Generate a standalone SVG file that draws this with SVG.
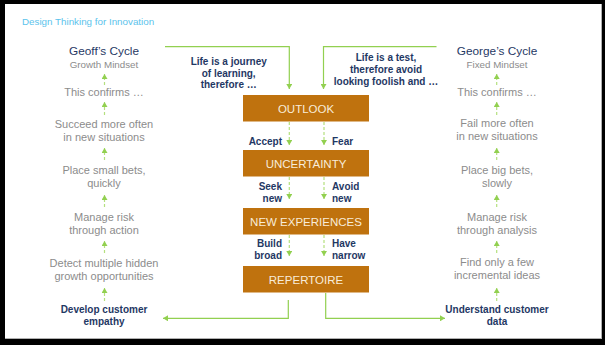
<svg xmlns="http://www.w3.org/2000/svg" width="605" height="345" viewBox="0 0 605 345">
<defs>
<style>
text{font-family:"Liberation Sans",Arial,sans-serif}
.grey{fill:#8c8c8c;font-size:11px;text-anchor:middle}
.head{fill:#1f3864;font-size:11.8px;text-anchor:middle}
.sub{fill:#8c8c8c;font-size:9.8px;text-anchor:middle}
.nb{fill:#1f3864;font-size:10px;font-weight:bold}
.box{fill:#bf720e}
.bt{fill:#f8ecd9;font-size:11.5px;text-anchor:middle}
.solid{stroke:#92d050;stroke-width:1.2;fill:none}
.dash{stroke:#b4e07e;stroke-width:1.2;fill:none;stroke-dasharray:3 2}
</style>
<marker id="ah" markerWidth="6" markerHeight="6" refX="5" refY="3" orient="auto" markerUnits="userSpaceOnUse">
<path d="M0,0 L5,3 L0,6 Z" fill="#92d050"/>
</marker>
</defs>
<rect x="0" y="0" width="605" height="345" fill="#000"/>
<rect x="5" y="4" width="597" height="335" fill="#b0b0b0"/>
<rect x="5" y="4" width="596" height="334" fill="#fff"/>
<text x="22" y="25" style="fill:#5bc3ec;font-size:9.8px">Design Thinking for Innovation</text>

<g id="connectors">
<path class="solid" d="M165,46.7 H289.3 V89" marker-end="url(#ah)"/>
<path class="solid" d="M436.5,46.7 H323.5 V89" marker-end="url(#ah)"/>
<path class="dash" d="M289.3,122 V145" marker-end="url(#ah)"/>
<path class="dash" d="M324,122 V145" marker-end="url(#ah)"/>
<path class="dash" d="M289.3,177 V199" marker-end="url(#ah)"/>
<path class="dash" d="M324,177 V199" marker-end="url(#ah)"/>
<path class="dash" d="M289.3,235 V256" marker-end="url(#ah)"/>
<path class="dash" d="M324,235 V256" marker-end="url(#ah)"/>
<path class="solid" d="M288.3,300 V318.3 H163" marker-end="url(#ah)"/>
<path class="solid" d="M325.7,293 V318.3 H445" marker-end="url(#ah)"/>
<g id="left-arrows">
<path class="dash" d="M104.5,85 V74" marker-end="url(#ah)"/>
<path class="dash" d="M104.5,115 V102" marker-end="url(#ah)"/>
<path class="dash" d="M104.5,160 V148" marker-end="url(#ah)"/>
<path class="dash" d="M104.5,207 V195" marker-end="url(#ah)"/>
<path class="dash" d="M104.5,253 V241" marker-end="url(#ah)"/>
<path class="dash" d="M104.5,301 V288" marker-end="url(#ah)"/>
</g>
<g id="right-arrows">
<path class="dash" d="M496.7,85 V74" marker-end="url(#ah)"/>
<path class="dash" d="M496.7,115 V102" marker-end="url(#ah)"/>
<path class="dash" d="M496.7,160 V148" marker-end="url(#ah)"/>
<path class="dash" d="M496.7,207 V195" marker-end="url(#ah)"/>
<path class="dash" d="M496.7,253 V241" marker-end="url(#ah)"/>
<path class="dash" d="M496.7,301 V288" marker-end="url(#ah)"/>
</g>
</g>

<g id="outlook"><rect class="box" x="243" y="95" width="126" height="26.5"/><text class="bt" x="306" y="112.5">OUTLOOK</text></g>
<g id="uncertainty"><rect class="box" x="243" y="150" width="126" height="26.5"/><text class="bt" x="306" y="167.5">UNCERTAINTY</text></g>
<g id="new-experiences"><rect class="box" x="243" y="208" width="126" height="26.5"/><text class="bt" x="306" y="225.5">NEW EXPERIENCES</text></g>
<g id="repertoire"><rect class="box" x="243" y="266" width="126" height="26.5"/><text class="bt" x="306" y="283.5">REPERTOIRE</text></g>

<g id="journey"><text class="nb" text-anchor="middle" x="228.7" y="65">Life is a journey</text><text class="nb" text-anchor="middle" x="228.7" y="76.7">of learning,</text><text class="nb" text-anchor="middle" x="228.7" y="88.3">therefore …</text></g>
<g id="test"><text class="nb" text-anchor="middle" x="386" y="61">Life is a test,</text><text class="nb" text-anchor="middle" x="386" y="73">therefore avoid</text><text class="nb" text-anchor="middle" x="386" y="85">looking foolish and …</text></g>

<g id="labels-left">
<text class="nb" text-anchor="end" x="282" y="144.5">Accept</text>
<text class="nb" text-anchor="end" x="282" y="190">Seek</text><text class="nb" text-anchor="end" x="282" y="202">new</text>
<text class="nb" text-anchor="end" x="282" y="247.3">Build</text><text class="nb" text-anchor="end" x="282" y="259.3">broad</text>
</g>
<g id="labels-right">
<text class="nb" x="332" y="144.5">Fear</text>
<text class="nb" x="332" y="190">Avoid</text><text class="nb" x="332" y="202">new</text>
<text class="nb" x="332" y="247.3">Have</text><text class="nb" x="332" y="259.3">narrow</text>
</g>

<g id="geoff">
<text class="head" x="104" y="55">Geoff’s Cycle</text>
<text class="sub" x="104" y="67.7">Growth Mindset</text>
<text class="grey" x="104" y="95.7">This confirms …</text>
<text class="grey" x="104" y="127.7">Succeed more often</text><text class="grey" x="104" y="140.7">in new situations</text>
<text class="grey" x="104" y="174">Place small bets,</text><text class="grey" x="104" y="187">quickly</text>
<text class="grey" x="104" y="220.7">Manage risk</text><text class="grey" x="104" y="234">through action</text>
<text class="grey" x="104" y="267.3">Detect multiple hidden</text><text class="grey" x="104" y="280.3">growth opportunities</text>
<text class="nb" text-anchor="middle" x="104" y="313.3">Develop customer</text><text class="nb" text-anchor="middle" x="104" y="325.3">empathy</text>
</g>
<g id="george">
<text class="head" x="497" y="55">George’s Cycle</text>
<text class="sub" x="497" y="67.7">Fixed Mindset</text>
<text class="grey" x="497" y="95.7">This confirms …</text>
<text class="grey" x="497" y="127.2">Fail more often</text><text class="grey" x="497" y="140.2">in new situations</text>
<text class="grey" x="497" y="174">Place big bets,</text><text class="grey" x="497" y="187">slowly</text>
<text class="grey" x="497" y="220.7">Manage risk</text><text class="grey" x="497" y="234">through analysis</text>
<text class="grey" x="497" y="266.3">Find only a few</text><text class="grey" x="497" y="279.3">incremental ideas</text>
<text class="nb" text-anchor="middle" x="497" y="313.3">Understand customer</text><text class="nb" text-anchor="middle" x="497" y="325.3">data</text>
</g>
</svg>
